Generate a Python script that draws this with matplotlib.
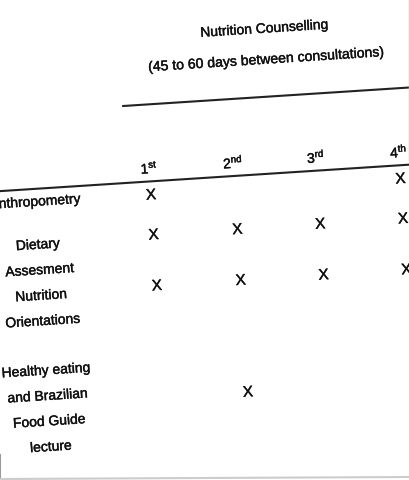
import matplotlib.pyplot as plt
import matplotlib.patheffects as pe
from matplotlib.transforms import Affine2D

plt.rcParams['font.family'] = ['Liberation Sans', 'DejaVu Sans']
plt.rcParams['mathtext.fontset'] = 'custom'
plt.rcParams['mathtext.rm'] = 'Liberation Sans'

# datos de la tabla
title = "Nutrition Counselling"
subtitle = "(45 to 60 days between consultations)"
visits = ["1", "2", "3", "4"]
suffixes = ["st", "nd", "rd", "th"]
activities = ["Anthropometry",
              "Dietary\nAssesment",
              "Nutrition\nOrientations",
              "Healthy eating\nand Brazilian\nFood Guide\nlecture"]
# 1 = actividad hecha en esa consulta
schedule = [[1, 0, 0, 1],
            [1, 1, 1, 1],
            [1, 1, 1, 1],
            [0, 1, 0, 0]]

# layout (coordenadas de la tabla sin rotar, en pixeles)
col_x = [154, 238, 321, 404]
mark_y = [192, 232, 283, 395]
label_y = [191, 234, 285, 360]
label_x = 38
line_gap = 25.5
angle = 3.7   # la foto esta un poco girada

fig = plt.figure(figsize=(4.1, 4.8), dpi=100)
ax = fig.add_axes([0, 0, 1, 1])
ax.set_xlim(0, 410)
ax.set_ylim(480, 0)
ax.axis('off')

tr = Affine2D().rotate_deg_around(205, 240, -angle) + ax.transData
ink = '#111111'
thick = [pe.withStroke(linewidth=0.3, foreground=ink)]
kw = dict(transform=tr, rotation=angle, rotation_mode='anchor',
          ha='center', va='center', color=ink, path_effects=thick)

ax.text(278, 33, title, fontsize=10, **kw)
ax.text(278, 64, subtitle, fontsize=10.1, **kw)
ax.plot([132, 430], [101, 101], transform=tr, color='#222222', lw=1.5)
ax.plot([-20, 430], [178, 178], transform=tr, color='#222222', lw=1.5)

for x, v, s in zip(col_x, visits, suffixes):
    ax.text(x, 164, v + r"$^{\mathrm{" + s + "}}$", fontsize=10, **kw)

for i, act in enumerate(activities):
    for j, line in enumerate(act.split("\n")):
        ax.text(label_x, label_y[i] + j * line_gap, line, fontsize=10, **kw)
    for j, done in enumerate(schedule[i]):
        if done:
            ax.text(col_x[j], mark_y[i], "X", fontsize=11, **kw)

# bordes grises de la foto
ax.plot([409, 409], [0, 160], color='#bbbbbb', lw=1)
ax.plot([0, 0], [455, 480], color='#999999', lw=1.5)
ax.plot([0, 410], [479, 477], color='#cccccc', lw=1.5)

fig.savefig("out.png", dpi=100)
